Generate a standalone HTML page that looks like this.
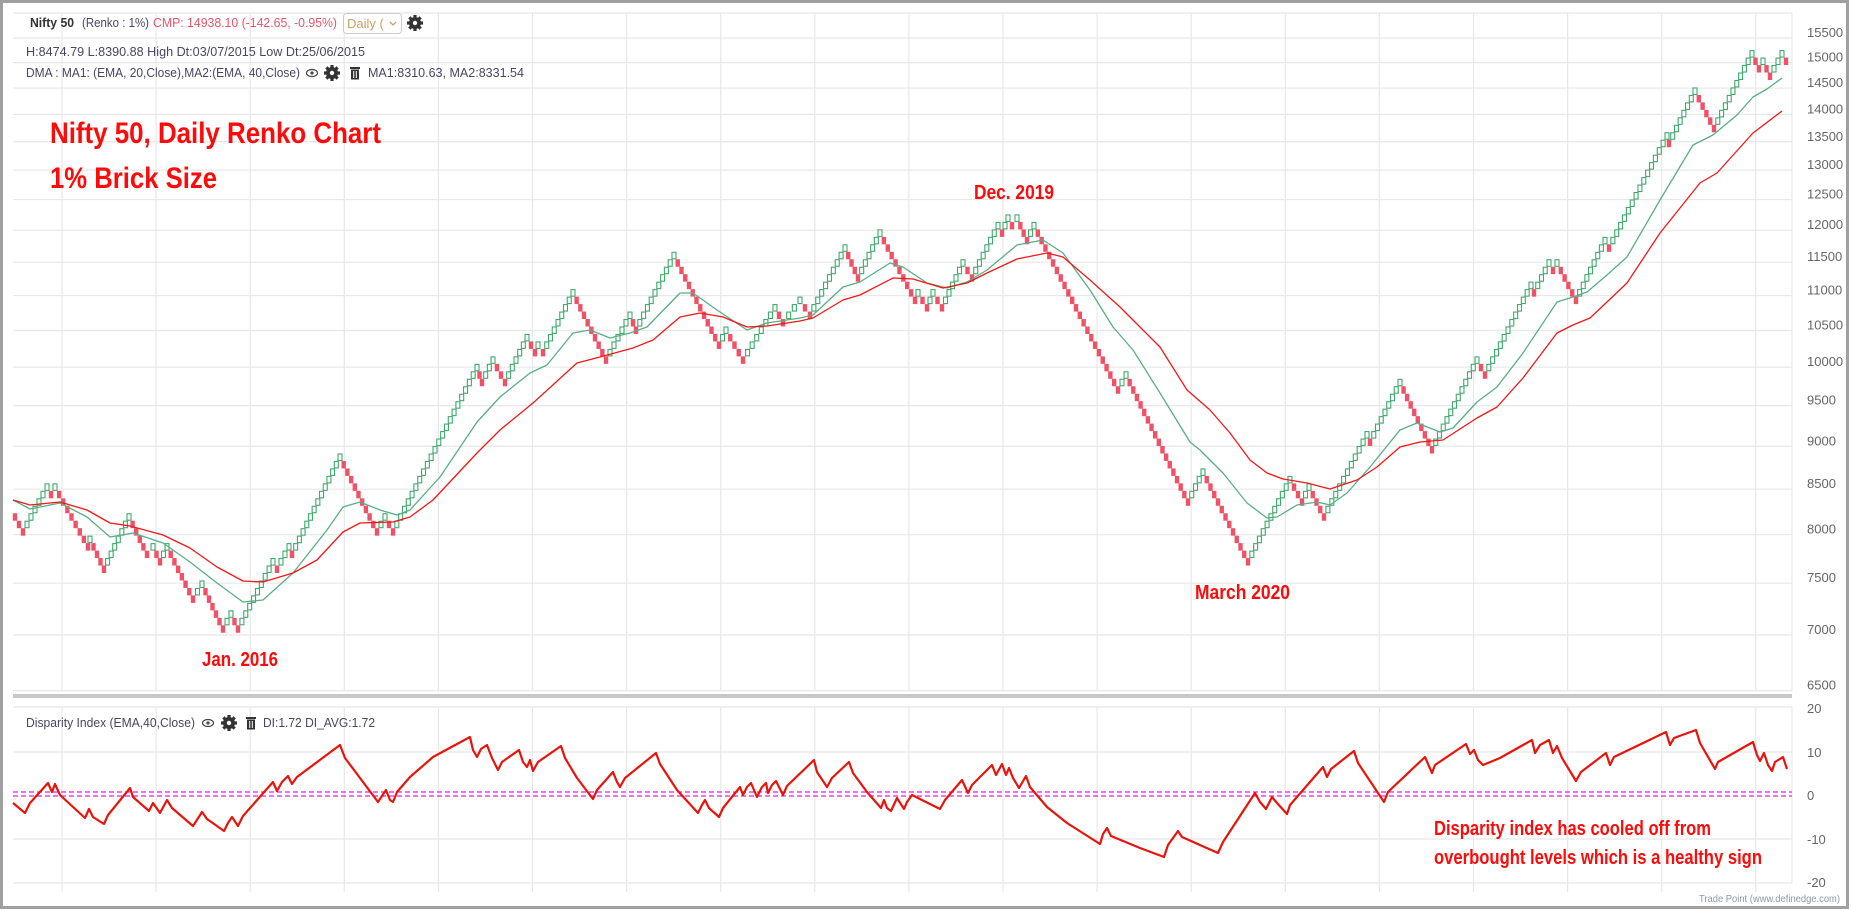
<!DOCTYPE html>
<html><head><meta charset="utf-8"><style>
html,body{margin:0;padding:0;background:#fff;}
svg{display:block;}
text{font-family:"Liberation Sans",sans-serif;}
.n{font-family:"Liberation Sans Narrow","Liberation Sans",sans-serif;font-weight:bold;fill:#ff0a0a;}
.h{font-size:12.5px;fill:#4a4560;}
.ax{font-size:13px;fill:#666;}
</style></head><body>
<svg id="s" width="1851" height="910" xmlns="http://www.w3.org/2000/svg">
<rect x="0" y="0" width="1851" height="910" fill="#fff"/>
<g id="grid" stroke="#e8e8e8" stroke-width="1.2" fill="none"></g>
<g id="bricks"></g>
<g id="lines"></g>
<rect x="13" y="694" width="1779" height="4" fill="#c8c8c8"/>
<g id="labels"></g>
<text x="30" y="27" font-size="13" font-weight="bold" fill="#333" textLength="44" lengthAdjust="spacingAndGlyphs">Nifty 50</text>
<text x="82" y="27" class="h" textLength="67" lengthAdjust="spacingAndGlyphs">(Renko : 1%)</text>
<text x="153" y="27" font-size="12.5" fill="#e8556a" textLength="184" lengthAdjust="spacingAndGlyphs">CMP: 14938.10 (-142.65, -0.95%)</text>
<rect x="343.5" y="13.5" width="58" height="20" rx="3" fill="#fff" stroke="#ccc"/>
<text x="347" y="28" font-size="13" fill="#c8a066">Daily (</text>
<path d="M390 22 l3 3 l3 -3" stroke="#c8a066" fill="none" stroke-width="1.3"/>
<g id="icons"></g>
<text x="26" y="56" class="h" textLength="339" lengthAdjust="spacingAndGlyphs">H:8474.79 L:8390.88 High Dt:03/07/2015 Low Dt:25/06/2015</text>
<text x="26" y="77" class="h" textLength="274" lengthAdjust="spacingAndGlyphs">DMA : MA1: (EMA, 20,Close),MA2:(EMA, 40,Close)</text>
<text x="368" y="77" class="h" textLength="156" lengthAdjust="spacingAndGlyphs">MA1:8310.63, MA2:8331.54</text>
<text x="26" y="727" class="h" textLength="169" lengthAdjust="spacingAndGlyphs">Disparity Index (EMA,40,Close)</text>
<text x="263" y="727" class="h" textLength="112" lengthAdjust="spacingAndGlyphs">DI:1.72 DI_AVG:1.72</text>
<text x="50" y="143" class="n" font-size="30" textLength="331" lengthAdjust="spacingAndGlyphs">Nifty 50, Daily Renko Chart</text>
<text x="50" y="188" class="n" font-size="30" textLength="167" lengthAdjust="spacingAndGlyphs">1% Brick Size</text>
<text x="202" y="666" class="n" font-size="20" textLength="76" lengthAdjust="spacingAndGlyphs">Jan. 2016</text>
<text x="974" y="199" class="n" font-size="20" textLength="80" lengthAdjust="spacingAndGlyphs">Dec. 2019</text>
<text x="1195" y="599" class="n" font-size="20" textLength="95" lengthAdjust="spacingAndGlyphs">March 2020</text>
<text x="1434" y="835" class="n" font-size="20" textLength="277" lengthAdjust="spacingAndGlyphs">Disparity index has cooled off from</text>
<text x="1434" y="864" class="n" font-size="20" textLength="328" lengthAdjust="spacingAndGlyphs">overbought levels which is a healthy sign</text>
<text x="1699" y="902" font-size="10" fill="#8a9aa8" textLength="141" lengthAdjust="spacingAndGlyphs">Trade Point (www.definedge.com)</text>
<rect x="1.5" y="1.5" width="1846" height="906" fill="none" stroke="#a0a0a0" stroke-width="3"/>
</svg>
<script>
(function(){
var NS="http://www.w3.org/2000/svg";
function el(p,t,a){var e=document.createElementNS(NS,t);for(var k in a)e.setAttribute(k,a[k]);p.appendChild(e);return e;}
var g=document.getElementById('grid');
function py(p){return 38+Math.log(15500/p)*751;}
for(var p=6500;p<=15500;p+=500){var y=py(p);el(g,'line',{x1:13,x2:1792,y1:y,y2:y});}
el(g,'line',{x1:13,x2:1792,y1:13,y2:13});
[707,752,839,883].forEach(function(y){el(g,'line',{x1:13,x2:1792,y1:y,y2:y});});
for(var k=0;k<19;k++){var x=62+94.1*k;el(g,'line',{x1:x,x2:x,y1:13,y2:691});el(g,'line',{x1:x,x2:x,y1:707,y2:892});}
el(g,'line',{x1:1792,x2:1792,y1:13,y2:691});el(g,'line',{x1:1792,x2:1792,y1:707,y2:883});
var L=document.getElementById('labels');
for(var p=6500;p<=15500;p+=500){var t=el(L,'text',{x:1807,y:py(p)-1,'class':'ax'});t.textContent=p;}
[[20,708],[10,752],[0,795],[-10,839],[-20,882]].forEach(function(a){var t=el(L,'text',{x:1807,y:a[1]+5,'class':'ax'});t.textContent=a[0];});
var I=document.getElementById('icons');
function gear(x,y){el(I,'circle',{cx:x,cy:y,r:6,fill:'#333'});for(var i=0;i<8;i++){el(I,'rect',{x:x-1.6,y:y-8,width:3.2,height:3,fill:'#333',transform:'rotate('+(i*45)+' '+x+' '+y+')'});}el(I,'circle',{cx:x,cy:y,r:2.2,fill:'#fff'});}
function eye(x,y){el(I,'ellipse',{cx:x,cy:y,rx:5.5,ry:3.5,fill:'none',stroke:'#444','stroke-width':1.2});el(I,'circle',{cx:x,cy:y,r:1.6,fill:'#444'});}
function trash(x,y){el(I,'rect',{x:x-5,y:y-6,width:10,height:2,fill:'#333'});el(I,'rect',{x:x-4,y:y-3.5,width:8,height:10,fill:'#333'});el(I,'rect',{x:x-1.8,y:y-2,width:1,height:7,fill:'#fff'});el(I,'rect',{x:x+0.8,y:y-2,width:1,height:7,fill:'#fff'});}
gear(415,23);eye(312,73);gear(332,73);trash(355,73);eye(208,723);gear(229,723);trash(251,723);
var B=document.getElementById('bricks'),h=7.47;
function lev(y){return Math.round((700-y)/h);}
function ly(l){return 700-l*h;}
var W=[[23,537],[47,484],[51,499],[55,484],[88,552],[90,537],[104,574],[129,514],[147,559],[153,544],[160,567],[167,544],[193,604],[202,581],[223,634],[231,612],[238,634],[273,559],[277,574],[289,544],[292,559],[340,454],[377,537],[385,514],[393,537],[477,364],[482,388],[493,357],[505,388],[527,335],[535,358],[538,343],[543,358],[573,290],[606,364],[630,312],[636,335],[674,252],[719,351],[726,328],[743,364],[775,305],[783,328],[800,297],[810,320],[845,246],[858,282],[880,231],[915,306],[918,291],[927,313],[933,291],[942,313],[963,261],[972,282],[998,222],[1002,237],[1008,216],[1012,231],[1017,216],[1027,246],[1034,222],[1118,394],[1126,372],[1188,507],[1203,469],[1248,567],[1290,478],[1302,507],[1309,485],[1324,522],[1367,432],[1370,447],[1400,379],[1432,454],[1477,357],[1485,379],[1531,283],[1534,298],[1549,261],[1553,276],[1557,261],[1576,306],[1605,237],[1609,253],[1667,133],[1669,149],[1695,88],[1714,134],[1752,51],[1759,73],[1763,58],[1770,81],[1782,51],[1786,66]];
var P=lev(514)+1,Bt=0,prevX=11;
for(var i=0;i<W.length;i++){var wx=W[i][0],T=lev(W[i][1]),n,j,xx,yy;
 if(i%2==0){n=P-1-T;for(j=0;j<n;j++){xx=prevX+(j+1)*(wx-prevX)/n;yy=ly(P-1-j);el(B,'rect',{x:xx-2.2,y:yy,width:4.4,height:h,fill:'#ef5266'});}Bt=T;}
 else{n=T-Bt-1;for(j=0;j<n;j++){xx=prevX+(j+1)*(wx-prevX)/n;yy=ly(Bt+2+j);el(B,'rect',{x:xx-2,y:yy+0.5,width:4,height:h-1,fill:'#fff',stroke:'#3fa86c','stroke-width':1.1});}P=T;}
 prevX=wx;}
var Ln=document.getElementById('lines');
var G=[[13,500],[30,509],[60,503],[87,517],[110,537],[133,533],[163,543],[190,562],[217,583],[243,602],[263,600],[293,573],[327,530],[343,507],[360,502],[380,510],[397,515],[410,510],[440,477],[477,422],[500,397],[530,373],[547,365],[573,333],[590,330],[610,338],[630,333],[647,327],[680,293],[693,293],[717,310],[747,330],[767,323],[800,318],[813,315],[843,287],[860,282],[890,263],[903,267],[927,283],[947,288],[967,282],[987,270],[1017,245],[1043,240],[1063,253],[1090,290],[1113,327],[1133,350],[1160,393],[1190,442],[1200,450],[1223,473],[1247,503],[1267,518],[1277,517],[1297,505],[1317,502],[1330,505],[1347,493],[1370,467],[1400,430],[1417,423],[1440,432],[1453,428],[1477,402],[1497,387],[1523,353],[1557,302],[1573,297],[1587,292],[1607,275],[1627,257],[1660,200],[1693,145],[1713,135],[1737,115],[1753,97],[1767,89],[1782,78]];
var R=[[13,500],[30,505],[60,502],[87,510],[110,523],[130,526],[163,535],[190,548],[217,567],[243,581],[263,582],[293,573],[317,560],[343,532],[360,523],[393,522],[410,517],[433,500],[477,453],[500,430],[533,403],[577,363],[600,357],[633,348],[653,340],[680,317],[700,313],[723,317],[747,327],[767,326],[800,321],[813,318],[843,300],[860,295],[893,278],[913,279],[943,288],[967,283],[987,273],[1017,259],[1047,253],[1063,257],[1090,280],[1120,307],[1140,327],[1160,347],[1187,390],[1210,410],[1230,433],[1250,460],[1267,473],[1283,479],[1307,483],[1330,489],[1357,480],[1377,467],[1400,447],[1420,442],[1443,440],[1477,418],[1497,407],[1523,378],[1557,333],[1573,325],[1590,318],[1607,302],[1627,283],[1660,233],[1700,183],[1717,173],[1753,133],[1782,111]];
function pl(pts,c,w){el(Ln,'polyline',{points:pts.map(function(p){return p.join(',')}).join(' '),fill:'none',stroke:c,'stroke-width':w,'stroke-linejoin':'round'});}
pl(G,'#5aae84',1.3);pl(R,'#f01818',1.3);
el(Ln,'line',{x1:13,x2:1792,y1:792,y2:792,stroke:'#e020e0','stroke-width':1.2,'stroke-dasharray':'5,3'});
el(Ln,'line',{x1:13,x2:1792,y1:796,y2:796,stroke:'#e020e0','stroke-width':1.2,'stroke-dasharray':'5,3'});
var D=[[13,803],[25,813],[30,803],[48,783],[52,792],[55,784],[60,795],[85,818],[89,809],[93,817],[104,824],[108,815],[130,788],[133,797],[149,811],[153,803],[160,813],[167,800],[172,808],[193,826],[202,812],[207,819],[224,831],[228,823],[232,817],[238,826],[243,816],[273,782],[277,791],[282,782],[288,776],[292,784],[297,777],[340,745],[345,758],[378,802],[386,790],[390,800],[393,802],[397,792],[410,777],[433,757],[470,737],[473,750],[477,757],[481,749],[487,745],[492,758],[498,770],[502,762],[519,750],[523,762],[527,767],[530,760],[533,771],[538,762],[561,746],[565,758],[577,778],[593,799],[597,790],[613,772],[617,782],[620,787],[625,778],[656,753],[660,764],[677,790],[698,813],[702,805],[705,800],[709,808],[719,817],[723,808],[740,787],[743,795],[747,787],[751,783],[757,797],[762,787],[766,783],[768,793],[772,785],[776,781],[783,795],[787,786],[814,760],[817,772],[827,787],[832,778],[849,762],[853,773],[867,792],[881,808],[884,800],[887,808],[891,811],[897,798],[904,809],[907,802],[912,795],[940,809],[945,800],[962,780],[968,793],[972,785],[992,765],[996,775],[1002,764],[1006,775],[1009,768],[1013,778],[1019,788],[1026,776],[1030,787],[1047,807],[1067,823],[1100,844],[1103,834],[1107,828],[1111,836],[1140,848],[1164,857],[1168,845],[1178,831],[1182,837],[1218,853],[1223,842],[1255,793],[1260,802],[1266,809],[1272,797],[1277,803],[1287,814],[1290,805],[1323,767],[1327,777],[1331,769],[1354,751],[1358,763],[1384,802],[1388,792],[1425,757],[1432,773],[1435,765],[1466,744],[1470,754],[1474,750],[1478,760],[1483,765],[1500,758],[1532,740],[1535,753],[1540,745],[1549,740],[1553,753],[1557,746],[1562,758],[1576,781],[1581,772],[1606,753],[1610,765],[1614,757],[1666,732],[1670,745],[1674,738],[1696,730],[1700,743],[1715,769],[1718,762],[1753,742],[1757,755],[1760,761],[1764,753],[1768,765],[1772,771],[1775,762],[1783,757],[1787,769]];
pl(D,'#e8140c',2.2);
})();
</script>
</body></html>
